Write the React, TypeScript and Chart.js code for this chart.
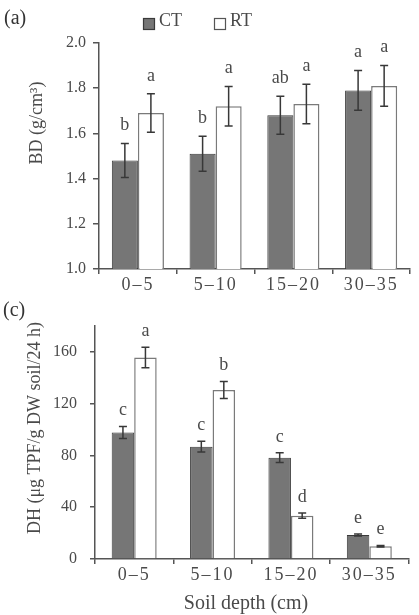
import React, { useEffect, useRef } from "react";
import { Chart, registerables } from "chart.js";

Chart.register(...registerables);

const categories = ["0–5", "5–10", "15–20", "30–35"];
const seriesNames = ["CT", "RT"];

const bdCT = [1.48, 1.51, 1.68, 1.79];
const bdRT = [1.69, 1.72, 1.73, 1.81];
const bdCTErr = [0.075, 0.077, 0.084, 0.088];
const bdRTErr = [0.085, 0.087, 0.087, 0.09];
const bdCTLetters = ["b", "b", "ab", "a"];
const bdRTLetters = ["a", "a", "a", "a"];
const bdTicks = [1.0, 1.2, 1.4, 1.6, 1.8, 2.0];

const dhCT = [97.7, 86.8, 78.3, 18.6];
const dhRT = [155.6, 130.6, 33.5, 9.8];
const dhCTErr = [4.7, 4.1, 3.7, 0.8];
const dhRTErr = [7.9, 6.6, 2.0, 0.6];
const dhCTLetters = ["c", "c", "c", "e"];
const dhRTLetters = ["a", "b", "d", "e"];
const dhTicks = [0, 40, 80, 120, 160];

const FONT = "'Liberation Serif', 'Times New Roman', serif";
const TEXT = "#4a4a4a";
const AXIS = "#555555";
const CT_FILL = "#767676";
const CT_BORDER = "#3a3a3a";
const RT_FILL = "#ffffff";
const RT_BORDER = "#7a7a7a";

const extrasPlugin = {
  id: "extras",
  afterDatasetsDraw(chart: any, _args: any, opts: any) {
    const ctx = chart.ctx as any;
    const y = chart.scales.y;
    ctx.save();
    ctx.letterSpacing = "0px";
    // error bars and letters
    (opts.errors || []).forEach((errs: number[], di: number) => {
      const meta = chart.getDatasetMeta(di);
      const vals = chart.data.datasets[di].data as number[];
      meta.data.forEach((bar: any, i: number) => {
        const v = vals[i];
        const e = errs[i];
        const top = y.getPixelForValue(v + e);
        const bot = y.getPixelForValue(v - e);
        const x = bar.x;
        ctx.strokeStyle = "#383838";
        ctx.lineWidth = 1.5;
        ctx.beginPath();
        ctx.moveTo(x, top);
        ctx.lineTo(x, bot);
        ctx.moveTo(x - 4, top);
        ctx.lineTo(x + 4, top);
        ctx.moveTo(x - 4, bot);
        ctx.lineTo(x + 4, bot);
        ctx.stroke();
        ctx.fillStyle = TEXT;
        ctx.font = `18px ${FONT}`;
        ctx.textAlign = "center";
        ctx.textBaseline = "middle";
        ctx.fillText(opts.letters[di][i], x, top - opts.letterGap);
      });
    });
    // panel label
    ctx.fillStyle = "#333";
    ctx.font = `20px ${FONT}`;
    ctx.textAlign = "left";
    ctx.textBaseline = "middle";
    ctx.fillText(opts.panel.text, opts.panel.x, opts.panel.y);
    // legend
    if (opts.legend) {
      const lg = opts.legend;
      lg.items.forEach((it: any) => {
        ctx.fillStyle = it.fill;
        ctx.fillRect(it.x, lg.y, 12, 12);
        ctx.strokeStyle = it.border;
        ctx.lineWidth = 1.2;
        ctx.strokeRect(it.x + 0.5, lg.y + 0.5, 11, 11);
        ctx.fillStyle = TEXT;
        ctx.font = `18px ${FONT}`;
        ctx.textAlign = "left";
        ctx.textBaseline = "middle";
        ctx.fillText(it.text, it.x + 16, lg.y + 3);
      });
    }
    // y title
    ctx.save();
    ctx.translate(opts.yTitle.x, opts.yTitle.y);
    ctx.rotate(-Math.PI / 2);
    ctx.fillStyle = TEXT;
    ctx.font = `18px ${FONT}`;
    ctx.textAlign = "center";
    ctx.textBaseline = "middle";
    ctx.fillText(opts.yTitle.text, 0, 0);
    ctx.restore();
    // x title
    if (opts.xTitle) {
      ctx.fillStyle = TEXT;
      ctx.font = `20px ${FONT}`;
      ctx.textAlign = "center";
      ctx.textBaseline = "middle";
      ctx.fillText(opts.xTitle.text, opts.xTitle.x, opts.xTitle.y);
    }
    ctx.restore();
  },
};

function spacedLabels(s: any) {
  if (s.__spaced) return;
  s.__spaced = true;
  const orig = s.drawLabels.bind(s);
  s.drawLabels = (area: any) => {
    const ctx = s.ctx as any;
    const prev = ctx.letterSpacing;
    ctx.letterSpacing = "2px";
    orig(area);
    ctx.letterSpacing = prev || "0px";
  };
}

function makeConfig(p: any) {
  return {
    type: "bar",
    data: {
      labels: categories,
      datasets: [
        {
          label: seriesNames[0],
          data: p.ct,
          backgroundColor: CT_FILL,
          borderColor: CT_BORDER,
          borderWidth: 1,
        },
        {
          label: seriesNames[1],
          data: p.rt,
          backgroundColor: RT_FILL,
          borderColor: RT_BORDER,
          borderWidth: 1.5,
        },
      ],
    },
    options: {
      responsive: false,
      animation: false,
      layout: { padding: p.padding },
      datasets: {
        bar: { categoryPercentage: p.catPct, barPercentage: 1 },
      },
      plugins: {
        legend: { display: false },
        tooltip: { enabled: false },
        extras: p.extras,
      },
      scales: {
        x: {
          type: "category",
          offset: true,
          afterFit: (s: any) => {
            s.height = p.xHeight;
            spacedLabels(s);
          },
          grid: {
            offset: true,
            drawOnChartArea: false,
            drawTicks: true,
            tickLength: 5,
            color: AXIS,
            lineWidth: 1.5,
          },
          border: { display: true, color: AXIS, width: 1.5 },
          ticks: {
            color: TEXT,
            font: { family: FONT, size: 18 },
            padding: 0,
            maxRotation: 0,
          },
        },
        y: {
          min: p.min,
          max: p.max,
          afterBuildTicks: (s: any) => {
            s.ticks = p.ticks.map((value: number) => ({ value }));
          },
          afterFit: (s: any) => {
            s.width = p.yWidth;
          },
          grid: {
            drawOnChartArea: false,
            drawTicks: true,
            tickLength: p.tickLen,
            color: AXIS,
            lineWidth: 1.5,
          },
          border: { display: true, color: AXIS, width: 1.5 },
          ticks: {
            color: TEXT,
            font: { family: FONT, size: 16 },
            padding: p.tickPad,
            callback: p.fmt,
          },
        },
      },
    },
    plugins: [extrasPlugin],
  };
}

export default function App() {
  const topRef = useRef<HTMLCanvasElement>(null);
  const botRef = useRef<HTMLCanvasElement>(null);

  useEffect(() => {
    const top = new Chart(
      topRef.current as HTMLCanvasElement,
      makeConfig({
        ct: bdCT,
        rt: bdRT,
        min: 1.0,
        max: 2.0,
        ticks: bdTicks,
        fmt: (v: any) => Number(v).toFixed(1),
        padding: { top: 43, right: 9, left: 0, bottom: 0 },
        yWidth: 99,
        xHeight: 31,
        tickLen: 6,
        tickPad: 7,
        catPct: 0.67,
        extras: {
          errors: [bdCTErr, bdRTErr],
          letters: [bdCTLetters, bdRTLetters],
          letterGap: 18,
          panel: { text: "(a)", x: 4, y: 19 },
          legend: {
            y: 18,
            items: [
              { x: 143, text: seriesNames[0], fill: CT_FILL, border: CT_BORDER },
              { x: 214, text: seriesNames[1], fill: RT_FILL, border: "#555" },
            ],
          },
          yTitle: { text: "BD (g/cm³)", x: 37, y: 123 },
        },
      }) as any
    );
    const bot = new Chart(
      botRef.current as HTMLCanvasElement,
      makeConfig({
        ct: dhCT,
        rt: dhRT,
        min: 0,
        max: 180,
        ticks: dhTicks,
        fmt: (v: any) => String(v),
        padding: { top: 26, right: 10.5, left: 0, bottom: 0 },
        yWidth: 95,
        xHeight: 56,
        tickLen: 5,
        tickPad: 13,
        catPct: 0.574,
        extras: {
          errors: [dhCTErr, dhRTErr],
          letters: [dhCTLetters, dhRTLetters],
          letterGap: 16,
          panel: { text: "(c)", x: 3, y: 11 },
          yTitle: { text: "DH (μg TPF/g DW soil/24 h)", x: 35, y: 128 },
          xTitle: { text: "Soil depth (cm)", x: 246, y: 304 },
        },
      }) as any
    );
    return () => {
      top.destroy();
      bot.destroy();
    };
  }, []);

  return (
    <div
      style={{
        position: "absolute",
        left: 0,
        top: 0,
        width: 419,
        height: 615,
        background: "#fff",
        overflow: "hidden",
      }}
    >
      <canvas ref={topRef} width={419} height={300} style={{ display: "block" }} />
      <canvas ref={botRef} width={419} height={315} style={{ display: "block" }} />
    </div>
  );
}
